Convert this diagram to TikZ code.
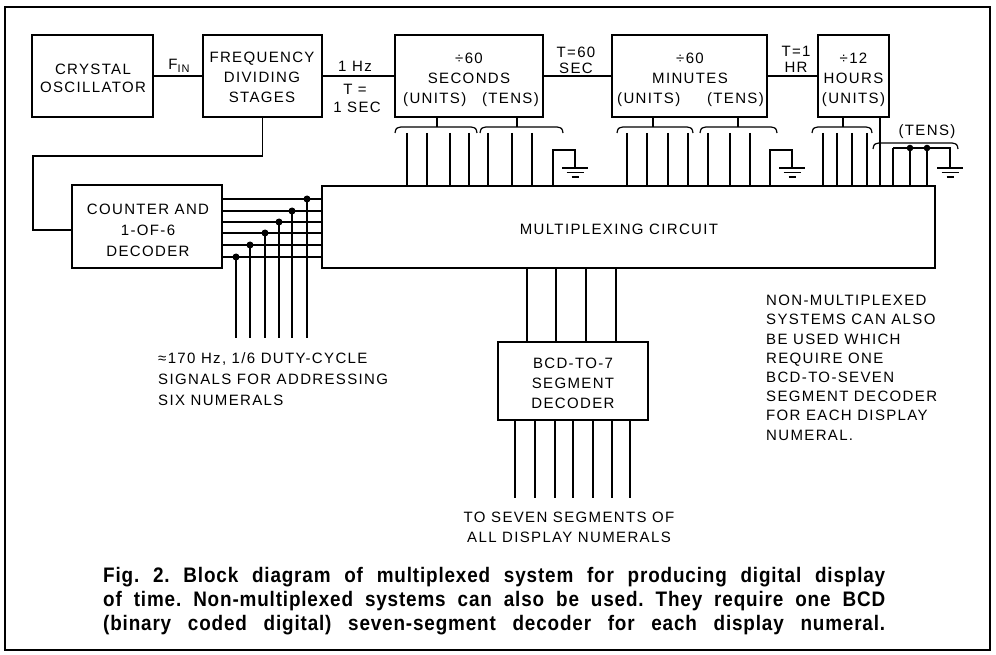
\documentclass[tikz,border=0pt]{standalone}
\usepackage{fontspec}
\newfontfamily\df{Liberation Sans}[LetterSpace=9]
\newfontfamily\cf{Liberation Sans}[LetterSpace=4, FakeStretch=0.9]
\newcommand\mybrace[3]{\draw[wire,line width=1.2pt] (#1,#3+6) .. controls (#1+1,#3+1) .. (#1+6,#3) -- (#2-6,#3) .. controls (#2-1,#3+1) .. (#2,#3+6);}
\newcommand\mygnd[1]{\draw[wire] (#1-13,168) -- (#1+13,168); \draw[wire] (#1-8.5,172.5) -- (#1+8.5,172.5); \draw[wire] (#1-3.5,177) -- (#1+3.5,177);}
\tikzset{
  box/.style={draw, line width=1.7pt, inner sep=0pt},
  wire/.style={line width=1.5pt},
  txt/.style={font=\df\fontsize{15}{20}\selectfont, inner sep=0pt, align=center},
}
\frenchspacing
\begin{document}
\begin{tikzpicture}[x=1pt,y=-1pt]
\useasboundingbox (0,0) rectangle (996,655);
\fill[white] (0,0) rectangle (996,655);
\draw[line width=2.4pt] (5,7) rectangle (990,650);

% boxes
\node[box, minimum width=121pt, minimum height=82pt] (xtal) at (92.5,76) {};
\node[box, minimum width=119pt, minimum height=82pt] (freq) at (262.5,76) {};
\node[box, minimum width=148pt, minimum height=82pt] (secs) at (469,76) {};
\node[box, minimum width=155pt, minimum height=82pt] (mins) at (689.5,76) {};
\node[box, minimum width=71pt, minimum height=82pt] (hrs) at (853.5,76) {};
\node[box, minimum width=150pt, minimum height=83pt] (counter) at (147,226.5) {};
\node[box, minimum width=613pt, minimum height=82pt] (mux) at (628.5,227) {};
\node[box, minimum width=150pt, minimum height=78pt] (bcd) at (573,381) {};

% box texts
\node[txt, font=\df\fontsize{15}{18}\selectfont] (xtalt) at (93,78) {CRYSTAL\\OSCILLATOR};
\node[txt] (freqt) at (262,77) {FREQUENCY\\DIVIDING\\STAGES};
\node[txt] (secs1) at (469,58) {÷60};
\node[txt] (secs2) at (469,78) {SECONDS};
\node[txt, anchor=west] (secs3) at (403,100) {(UNITS)};
\node[txt, anchor=east] (secs4) at (539,100) {(TENS)};
\node[txt] (mins1) at (690,58) {÷60};
\node[txt] (mins2) at (690,78) {MINUTES};
\node[txt, anchor=west] (mins3) at (617,100) {(UNITS)};
\node[txt, anchor=east] (mins4) at (764,100) {(TENS)};
\node[txt] (hrs1) at (853.5,58) {÷12};
\node[txt] (hrs2) at (853.5,78) {HOURS};
\node[txt] (hrs3) at (853.5,100) {(UNITS)};
\node[txt, font=\df\fontsize{15}{21}\selectfont] (countert) at (148,230) {COUNTER AND\\1-OF-6\\DECODER};
\node[txt] (muxt) at (619,229) {MULTIPLEXING CIRCUIT};
\node[txt] (bcdt) at (573,383) {BCD-TO-7\\SEGMENT\\DECODER};

% top chain
\draw[wire] (xtal.east) -- (freq.west);
\draw[wire] (freq.east) -- (secs.west);
\draw[wire] (secs.east) -- (mins.west);
\draw[wire] (mins.east) -- (hrs.west);
\node[txt] (fin) at (179,66) {F\raisebox{-2.5pt}{\fontsize{11}{11}\selectfont IN}};
\node[txt] (hz) at (355,66) {1 Hz};
\node[txt] (teq) at (355,89) {T =};
\node[txt] (sec1) at (357,107) {1 SEC};
\node[txt] (t60) at (576,52) {T=60};
\node[txt] (t60s) at (576,68) {SEC};
\node[txt] (t1) at (796,51) {T=1};
\node[txt] (t1h) at (796,67) {HR};

% freq -> counter
\draw[wire] (freq.south) -- ++(0,38) -| (33,230) -- (72,230);

% braces and buses
\mybrace{395}{477}{127} \mybrace{480}{563}{127}
\mybrace{617}{693}{127} \mybrace{700}{777}{127}
\mybrace{812}{872}{127} \mybrace{873}{958}{143}
\foreach \x in {437,517,653,738,843} \draw[wire,line width=1.2pt] (\x,127) -- (\x,117);
\foreach \x in {407,427,450,469,488,512,532,627,647,668,688,708,730,750,823,837,852,867}
  \draw[wire] (\x,133) -- (\x,186);
\node[txt] (tensh) at (927,132) {(TENS)};
\draw[wire] (hrs.south -| 880,0) -- (880,186);
\draw[wire] (553,186) -- (553,150) -- (575,150) -- (575,168);
\mygnd{575}
\draw[wire] (770,186) -- (770,150) -- (792,150) -- (792,168);
\mygnd{792}
\foreach \x in {893,910,927} \draw[wire] (\x,148) -- (\x,186);
\draw[wire] (893,148) -- (950,148) -- (950,168);
\fill (910,148) circle (3.3pt);
\fill (927,148) circle (3.3pt);
\mygnd{950}

% counter -> mux
\foreach \y/\x in {199/307, 211/292, 222/279, 233/265, 245/250, 257/236} {
  \draw[wire] (222,\y) -- (322,\y);
  \draw[wire] (\x,\y) -- (\x,338);
  \fill (\x,\y) circle (3.5pt);
}
\node[txt, align=left, anchor=north west, font=\df\fontsize{15}{21}\selectfont] (addr) at (158,352) {≈170 Hz, 1/6 DUTY-CYCLE\\SIGNALS FOR ADDRESSING\\SIX NUMERALS};

% mux -> bcd -> out
\foreach \x in {527,556,586,616} \draw[wire] (\x,268) -- (\x,342);
\foreach \x in {515,535,555,573,593,612,630} \draw[wire] (\x,420) -- (\x,498);
\node[txt] (segt) at (569,527) {TO SEVEN SEGMENTS OF\\ALL DISPLAY NUMERALS};

\node[txt, align=left, anchor=north west, font=\df\fontsize{15}{19.2}\selectfont] (note) at (766,295) {NON-MULTIPLEXED\\SYSTEMS CAN ALSO\\BE USED WHICH\\REQUIRE ONE\\BCD-TO-SEVEN\\SEGMENT DECODER\\FOR EACH DISPLAY\\NUMERAL.};

\node[anchor=north west, inner sep=0pt, align=left, font=\cf\bfseries\fontsize{21}{24}\selectfont] (cap) at (103,567)
 {\makebox[782pt][s]{Fig. 2. Block diagram of multiplexed system for producing digital display}\\
  \makebox[782pt][s]{of time. Non-multiplexed systems can also be used. They require one BCD}\\
  \makebox[782pt][s]{(binary coded digital) seven-segment decoder for each display numeral.}};
\end{tikzpicture}
\end{document}
